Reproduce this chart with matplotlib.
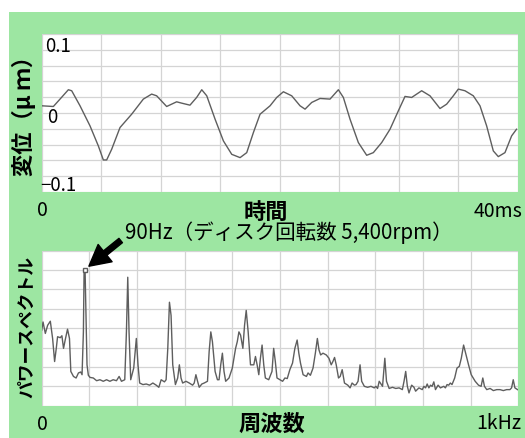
import matplotlib
matplotlib.use("Agg")
import matplotlib.pyplot as plt
from matplotlib.patches import Rectangle

plt.rcParams['font.family'] = ['Noto Sans CJK JP', 'DejaVu Sans']

# ---- time-domain displacement (ms, um) ----
time_ms = [0, 0.98, 1.54, 2.24, 2.52, 3.22, 4.06, 4.76, 5.18, 5.46, 5.88, 6.58, 7.56, 8.54,
           9.24, 9.66, 10.50, 11.34, 11.76, 12.46, 13.02, 13.45, 13.87, 14.57, 15.27, 15.97,
           16.67, 17.23, 17.79, 18.35, 19.19, 19.75, 20.31, 21.01, 21.71, 22.13, 22.69, 23.39,
           24.23, 24.93, 25.35, 25.91, 26.61, 27.31, 27.87, 28.57, 29.27, 29.97, 30.53, 31.09,
           31.93, 32.63, 33.47, 34.03, 34.59, 35.01, 35.57, 36.27, 36.83, 37.39, 37.95, 38.37,
           38.93, 39.49, 39.9]
disp_um = [0.0114, 0.0103, 0.0220, 0.0368, 0.0352, 0.0114, -0.0204, -0.0521, -0.0743, -0.0743,
           -0.0574, -0.0230, -0.0019, 0.0220, 0.0299, 0.0272, 0.0103, 0.0177, 0.0156, 0.0124,
           0.0246, 0.0368, 0.0272, -0.0098, -0.0442, -0.0654, -0.0706, -0.0627, -0.0309, -0.0019,
           0.0114, 0.0246, 0.0336, 0.0272, 0.0114, 0.0061, 0.0167, 0.0230, 0.0220, 0.0368,
           0.0246, -0.0098, -0.0468, -0.0669, -0.0627, -0.0468, -0.0257, 0.0034, 0.0262, 0.0246,
           0.0352, 0.0272, 0.0071, 0.0140, 0.0272, 0.0378, 0.0352, 0.0272, 0.0114, -0.0204,
           -0.0600, -0.0690, -0.0627, -0.0362, -0.0257]

# ---- power spectrum (Hz, arbitrary units) ----
freq_hz = [0, 2.8, 7.6, 12.5, 18.1, 22.9, 27.1, 30.6, 33.3, 38.9, 42.4, 45.8, 49.3, 54.2, 58.3,
           61.1, 66.7, 72.2, 77.1, 81.9, 84.7, 87.5, 89.0, 91.0, 95.1, 97.9, 101.4, 108.3, 115.3,
           122.2, 129.2, 136.1, 143.1, 150.0, 156.9, 162.5, 167.4, 174.3, 177.8, 180.6, 183.3,
           186.8, 193.1, 198.6, 202.1, 205.6, 212.5, 219.4, 226.4, 233.3, 240.3, 245.8, 250.7,
           257.6, 261.1, 264.6, 268.1, 271.5, 275.0, 280.6, 285.4, 288.9, 292.4, 295.8, 302.8,
           309.7, 316.7, 320.1, 323.6, 327.1, 330.6, 336.1, 341.0, 347.9, 351.4, 354.9, 358.3,
           363.9, 368.8, 372.2, 375.7, 379.2, 382.6, 386.1, 393.1, 400.0, 406.9, 410.4, 413.9,
           417.4, 422.2, 425.7, 429.2, 433.3, 438.2, 445.1, 448.6, 452.1, 455.6, 459.0, 462.5,
           466.0, 469.4, 476.4, 483.3, 486.8, 490.3, 493.8,
           500.0, 505.6, 510.4, 515.3, 520.8, 526.4, 531.3, 536.1, 539.6, 543.1, 548.6, 555.6,
           559.0, 563.9, 569.4, 574.3, 578.5, 581.9, 585.4, 590.3, 597.2, 602.8, 607.6, 611.1,
           614.6, 618.1, 622.9, 626.4, 630.6, 635.4, 642.4, 647.2, 651.4, 656.3, 659.7, 663.9,
           668.1, 671.5, 677.1, 684.0, 691.0, 697.9, 701.4, 704.9, 708.3, 715.3, 720.1, 723.6,
           729.2, 736.1, 743.1, 750.0, 756.9, 760.4, 763.9, 767.4, 770.8, 776.4, 781.3, 784.7,
           791.7, 798.6, 802.1, 805.6, 809.0, 812.5, 816.0, 819.4, 822.9, 826.4, 831.9, 836.8,
           843.8, 847.2, 850.7, 854.2, 857.6, 861.1, 866.7, 871.5, 876.4, 880.6, 885.4, 888.9,
           892.4, 895.8, 901.4, 909.7, 916.7, 922.2, 925.7, 929.2, 934.0, 941.0, 947.9, 954.9,
           961.8, 968.8, 975.7, 982.6, 986.1, 989.6, 993.1, 998.6]
power = [3.90, 4.32, 3.73, 4.15, 4.36, 3.47, 2.28, 2.96, 3.56, 3.51, 3.61, 2.96, 3.39, 3.95, 3.47,
         1.77, 1.51, 1.43, 1.69, 1.74, 1.60, 3.81, 7.02, 7.02, 2.11, 1.57, 1.46, 1.43, 1.29,
         1.34, 1.26, 1.34, 1.26, 1.34, 1.29, 1.51, 1.26, 1.34, 3.81, 6.63, 3.81,
         1.34, 1.94, 3.47, 2.11, 1.17, 1.09, 1.12, 1.06, 1.17, 1.06, 0.95, 1.34,
         1.23, 1.34, 2.96, 5.34, 4.66, 2.11, 1.09, 1.43, 2.11, 1.43, 1.17, 1.26,
         1.17, 1.06, 1.17, 1.60, 1.26, 0.95, 1.12, 1.17, 1.26, 2.79, 3.81, 3.30,
         1.77, 1.34, 1.34, 2.11, 2.71, 1.77, 1.26, 1.43, 1.94, 2.96, 3.30, 3.81,
         3.64, 2.96, 4.15, 4.92, 3.81, 2.11, 2.11, 2.54, 2.11, 1.60, 2.45, 3.13,
         2.11, 1.43, 1.34, 1.77, 2.96, 2.28, 1.43,
         1.34, 1.26, 1.43, 1.40, 1.86, 2.20, 2.96, 3.39, 2.71, 2.20, 1.60, 1.51,
         1.69, 1.57, 1.94, 2.71, 3.47, 2.88, 2.62, 2.71, 2.62, 2.45, 2.11, 2.28,
         2.49, 2.11, 1.43, 1.51, 1.86, 1.17, 1.06, 0.92, 1.17, 1.06, 1.09, 1.26,
         2.11, 1.26, 1.00, 0.95, 1.00, 0.92, 1.00, 0.89, 1.26, 1.00, 2.45, 1.26,
         0.89, 0.95, 0.89, 0.92, 0.83, 1.26, 1.77, 1.00, 0.66, 1.06, 0.95, 0.75,
         0.92, 0.83, 1.00, 0.92, 1.12, 0.92, 1.06, 1.00, 1.23, 0.83, 1.06, 0.92,
         1.00, 0.92, 1.09, 1.06, 1.17, 1.09, 1.43, 1.94, 2.03, 2.45, 3.13, 2.79,
         2.45, 2.11, 1.60, 1.26, 1.06, 1.00, 1.43, 1.00, 0.83, 0.89, 0.78, 0.83,
         0.83, 0.78, 0.83, 0.83, 0.92, 1.34, 0.92, 0.83]
peak_freq = 90
peak_power = 7.02

green = '#9de6a2'
grid_c = '#d4d4d4'
line_c = '#5e5e5e'

fig = plt.figure(figsize=(5.25, 4.39), dpi=100)
fig.patches.append(Rectangle((9 / 525, 0), 1, 1 - 13 / 439, transform=fig.transFigure,
                             facecolor=green, edgecolor='none', zorder=-10))

# ---------- top axes ----------
ax1 = fig.add_axes([41.7 / 525, (439 - 193) / 439, 476 / 525, 158 / 439])
ax1.set_facecolor('white')
ax1.plot(time_ms, disp_um, color=line_c, lw=1.0)
ax1.set_xlim(0, 40)
ax1.set_ylim(-0.125, 0.125)
ax1.set_xticks([i * 5 for i in range(9)])
ax1.set_yticks([-0.125 + 0.025 * i for i in range(11)])
ax1.grid(True, color=grid_c, lw=0.9)
ax1.tick_params(length=0, labelbottom=False, labelleft=False)
for s in ax1.spines.values():
    s.set_visible(False)
ax1.text(0.008, 0.925, '0.1', transform=ax1.transAxes, fontsize=13.5, ha='left', va='center')
ax1.text(0.012, 0.48, '0', transform=ax1.transAxes, fontsize=13.5, ha='left', va='center')
ax1.text(-0.004, 0.05, '\u22120.1', transform=ax1.transAxes, fontsize=13.5, ha='left', va='center')

# ---------- bottom axes ----------
ax2 = fig.add_axes([41.7 / 525, (439 - 406.7) / 439, 476.5 / 525, 155 / 439])
ax2.set_facecolor('white')
ax2.plot(freq_hz, power, color=line_c, lw=1.0)
ax2.plot([peak_freq], [peak_power], marker='s', ms=3.5, mfc='white', mec=line_c, mew=1.0)
ax2.set_xlim(0, 1000)
ax2.set_ylim(0, 8)
ax2.set_xticks([i * 100 for i in range(11)])
ax2.set_yticks(range(9))
ax2.grid(True, color=grid_c, lw=0.9)
ax2.tick_params(length=0, labelbottom=False, labelleft=False)
for s in ax2.spines.values():
    s.set_visible(False)
ax2.annotate('', xy=(peak_freq, peak_power), xytext=(26, 21), textcoords='offset points',
             xycoords='data',
             arrowprops=dict(arrowstyle='simple,head_length=1.5,head_width=1.6,tail_width=0.4',
                             fc='black', ec='black', shrinkA=0, shrinkB=4))

# ---------- texts ----------
def ftext(x, y, s, **kw):
    fig.text(x / 525, 1 - y / 439, s, **kw)

ftext(42, 211, '0', fontsize=14, ha='center', va='center')
ftext(266, 212, '時間', fontsize=16, ha='center', va='center', weight='bold')
ftext(523, 212, '40ms', fontsize=14, ha='right', va='center')
ftext(42, 425, '0', fontsize=14, ha='center', va='center')
ftext(272, 424, '周波数', fontsize=16, ha='center', va='center', weight='bold')
ftext(521, 424, '1kHz', fontsize=14, ha='right', va='center')
ftext(289, 233, '90Hz（ディスク回転数 5,400rpm）', fontsize=14.8, ha='center', va='center')
ftext(24, 111, '変位（μ ｍ）', fontsize=16, ha='center', va='center', rotation=90, weight='bold')
ftext(27, 327, 'パワースペクトル', fontsize=12.8, ha='center', va='center', rotation=90, weight='bold')

fig.savefig('out.png', dpi=100, facecolor='white')
